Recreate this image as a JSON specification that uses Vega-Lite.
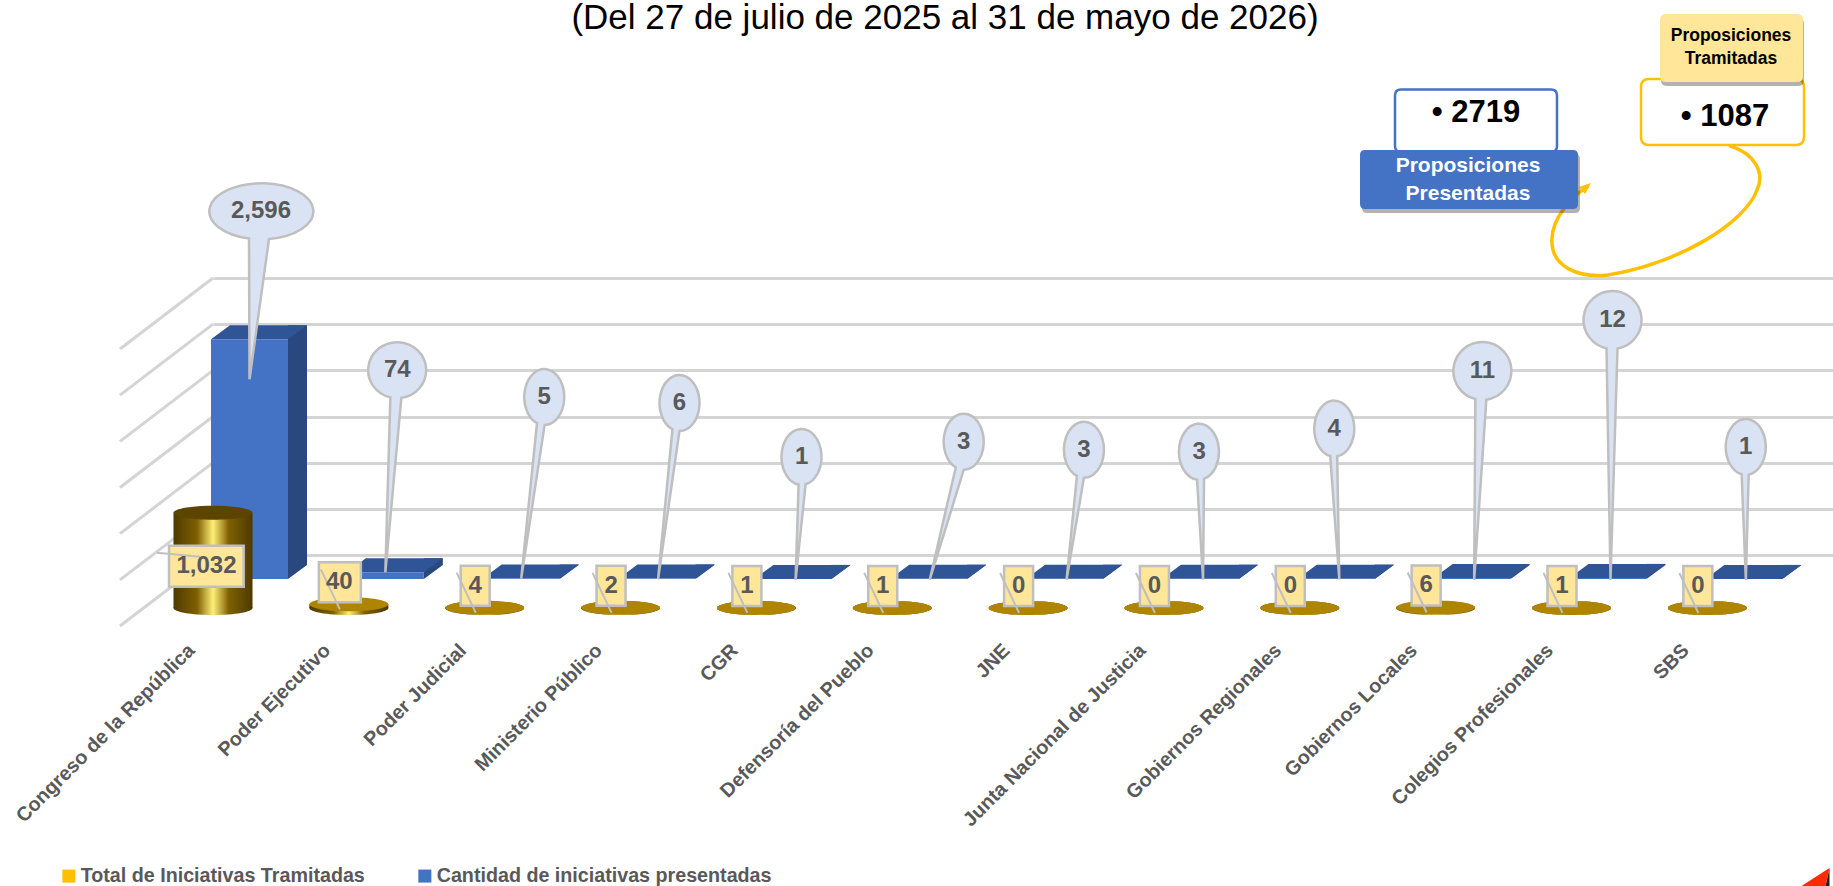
{
"$schema":"https://vega.github.io/schema/vega-lite/v6.json",
"width":1620,"height":277,
"autosize":{"type":"none"},
"padding":{"left":213,"top":278,"right":0,"bottom":331},
"background":"white",
"title":{"text":"(Del 27 de julio de 2025 al 31 de mayo de 2026)","anchor":"middle","dx":-78,"offset":-50,"baseline":"alphabetic","font":"Liberation Sans","fontWeight":"normal","fontSize":35,"color":"#000000"},
"config":{"view":{"stroke":null},
"point":{"size":4,"opacity":1,"filled":true,"strokeWidth":0},
"text":{"font":"Liberation Sans","fontWeight":"bold","fontSize":24,"fill":"#595959","align":"center","baseline":"middle"}},
"datasets":{
"presentadas":[
{"entidad":"Congreso de la República","serie":"Cantidad de iniciativas presentadas","valor":2596},
{"entidad":"Poder Ejecutivo","serie":"Cantidad de iniciativas presentadas","valor":74},
{"entidad":"Poder Judicial","serie":"Cantidad de iniciativas presentadas","valor":5},
{"entidad":"Ministerio Público","serie":"Cantidad de iniciativas presentadas","valor":6},
{"entidad":"CGR","serie":"Cantidad de iniciativas presentadas","valor":1},
{"entidad":"Defensoría del Pueblo","serie":"Cantidad de iniciativas presentadas","valor":3},
{"entidad":"JNE","serie":"Cantidad de iniciativas presentadas","valor":3},
{"entidad":"Junta Nacional de Justicia","serie":"Cantidad de iniciativas presentadas","valor":3},
{"entidad":"Gobiernos Regionales","serie":"Cantidad de iniciativas presentadas","valor":4},
{"entidad":"Gobiernos Locales","serie":"Cantidad de iniciativas presentadas","valor":11},
{"entidad":"Colegios Profesionales","serie":"Cantidad de iniciativas presentadas","valor":12},
{"entidad":"SBS","serie":"Cantidad de iniciativas presentadas","valor":1}],
"tramitadas":[
{"entidad":"Congreso de la República","serie":"Total de Iniciativas Tramitadas","valor":1032},
{"entidad":"Poder Ejecutivo","serie":"Total de Iniciativas Tramitadas","valor":40},
{"entidad":"Poder Judicial","serie":"Total de Iniciativas Tramitadas","valor":4},
{"entidad":"Ministerio Público","serie":"Total de Iniciativas Tramitadas","valor":2},
{"entidad":"CGR","serie":"Total de Iniciativas Tramitadas","valor":1},
{"entidad":"Defensoría del Pueblo","serie":"Total de Iniciativas Tramitadas","valor":1},
{"entidad":"JNE","serie":"Total de Iniciativas Tramitadas","valor":0},
{"entidad":"Junta Nacional de Justicia","serie":"Total de Iniciativas Tramitadas","valor":0},
{"entidad":"Gobiernos Regionales","serie":"Total de Iniciativas Tramitadas","valor":0},
{"entidad":"Gobiernos Locales","serie":"Total de Iniciativas Tramitadas","valor":6},
{"entidad":"Colegios Profesionales","serie":"Total de Iniciativas Tramitadas","valor":1},
{"entidad":"SBS","serie":"Total de Iniciativas Tramitadas","valor":0}],
"resumen":[{"entidad":"Colegios Profesionales","valor":3000,"presentadas":"•  2719","tramitadas":"•  1087"}]
},
"encoding":{
"x":{"field":"entidad","type":"nominal","sort":null,"title":null,
"scale":{"type":"point","padding":0,"range":[0,1630.2],"domain":["Congreso de la República","Poder Ejecutivo","Poder Judicial","Ministerio Público","CGR","Defensoría del Pueblo","JNE","Junta Nacional de Justicia","Gobiernos Regionales","Gobiernos Locales","Colegios Profesionales","SBS"," "]},
"axis":{"orient":"bottom","domain":false,"ticks":false,"grid":false,"labelAngle":-45,"labelAlign":"right","labelBaseline":"middle","labelOffset":-22,"labelPadding":92,"labelFont":"Liberation Sans","labelFontWeight":"bold","labelFontSize":19.8,"labelColor":"#595959","labelLimit":400,"labelOverlap":false}},
"y":{"field":"valor","type":"quantitative","title":null,
"scale":{"domain":[0,3000],"nice":false},
"axis":{"values":[0,500,1000,1500,2000,2500,3000],"domain":false,"ticks":false,"labels":false,"grid":true,"gridColor":"#d4d4d4","gridWidth":3}}
},
"layer":[
{"data":{"values":[{"valor":0},{"valor":500},{"valor":1000},{"valor":1500},{"valor":2000},{"valor":2500},{"valor":3000}]},
 "mark":{"type":"point","shape":"M0 0L-93 71","fill":"transparent","stroke":"#d4d4d4","strokeWidth":3},
 "encoding":{"x":{"datum":"Congreso de la República","type":"nominal"}}},
{"data":{"name":"presentadas"},"layer":[
 {"mark":{"type":"bar","color":"#2a4880","width":19,"xOffset":84.5,"yOffset":10}},
 {"mark":{"type":"point","shape":"M75 10L94 10L75 24Z","fill":"#2a4880"},"encoding":{"y":{"datum":0}}},
 {"mark":{"type":"point","shape":"M-2 24L75 24L94 10L17 10Z","fill":"#2f5597"}},
 {"mark":{"type":"bar","width":77,"xOffset":36.5,"yOffset":24},
  "encoding":{"color":{"field":"serie","type":"nominal","sort":null,
   "scale":{"domain":["Total de Iniciativas Tramitadas","Cantidad de iniciativas presentadas"],"range":["#ffc000","#4472c4"]},
   "legend":{"orient":"none","legendX":-154,"legendY":588,"direction":"horizontal","columns":2,"title":null,"symbolType":"square","symbolSize":170,"symbolStrokeWidth":0,"labelFont":"Liberation Sans","labelFontWeight":"bold","labelFontSize":19.7,"labelColor":"#595959","labelLimit":500,"columnPadding":50,"labelOffset":2}}}}
]},
{"data":{"name":"tramitadas"},"layer":[
 {"mark":{"type":"point","shape":"M-39.5 0A39.5 7 0 1 1 39.5 0A39.5 7 0 1 1 -39.5 0Z","yOffset":53,
   "fill":{"x1":0,"y1":0,"x2":1,"y2":0,"gradient":"linear","stops":[{"offset":0,"color":"#4d3a00"},{"offset":0.3,"color":"#7f6000"},{"offset":0.5,"color":"#fff07a"},{"offset":0.7,"color":"#7f6000"},{"offset":1,"color":"#4d3a00"}]}},
  "encoding":{"y":{"datum":0}}},
 {"mark":{"type":"bar","width":79,"yOffset":53,
   "fill":{"x1":0,"y1":0,"x2":1,"y2":0,"gradient":"linear","stops":[{"offset":0,"color":"#4d3a00"},{"offset":0.3,"color":"#7f6000"},{"offset":0.5,"color":"#fff07a"},{"offset":0.7,"color":"#7f6000"},{"offset":1,"color":"#4d3a00"}]}}},
 {"mark":{"type":"point","shape":"M-39.5 0A39.5 7 0 1 1 39.5 0A39.5 7 0 1 1 -39.5 0Z","yOffset":53},
  "encoding":{"color":{"condition":{"test":"datum.valor>100","value":"#5c4500"},"value":"#af8500"}}},
 {"transform":[{"filter":"datum.valor<100"}],"layer":[
  {"transform":[{"filter":"datum.valor<10"}],"mark":{"type":"point","shape":"M-24 11H5V51H-24Z","fill":"#ffe699","stroke":"#bfbfbf","strokeWidth":2.5}},
  {"transform":[{"filter":"datum.valor>=10"}],"mark":{"type":"point","shape":"M-30 11H12V51H-30Z","fill":"#ffe699","stroke":"#bfbfbf","strokeWidth":2.5}},
  {"mark":{"type":"point","shape":"M-28 18L-9 58","fill":"transparent","stroke":"#bfbfbf","strokeWidth":2}},
  {"mark":{"type":"text","xOffset":-9.5,"yOffset":31},"encoding":{"text":{"field":"valor","type":"quantitative","format":","}}}
 ]},
 {"transform":[{"filter":"datum.valor>=100"}],"layer":[
  {"mark":{"type":"point","shape":"M-44 86H30.7V127H-44Z","fill":"#ffe699","stroke":"#bfbfbf","strokeWidth":2.5}},
  {"mark":{"type":"point","shape":"M-56 93L-13 97","fill":"transparent","stroke":"#bfbfbf","strokeWidth":2}},
  {"mark":{"type":"text","xOffset":-6.5,"yOffset":106},"encoding":{"text":{"field":"valor","type":"quantitative","format":","}}}
 ]}
]},
{"data":{"name":"presentadas"},
 "layer":[
 {"transform":[{"filter":"datum.entidad=='Congreso de la República'"}],"layer":[
  {"mark":{"type":"point","xOffset":36.5,"yOffset":24,"fill":"#dae3f3","stroke":"#bfbfbf","strokeWidth":2.5,"shape":"M0 40L-0.5 -100.8A52 28 0 1 1 19.5 -100.3Z"}},
  {"mark":{"type":"text","xOffset":48,"yOffset":-104},"encoding":{"text":{"field":"valor","type":"quantitative","format":","}}}]},
 {"transform":[{"filter":"datum.entidad=='Poder Ejecutivo'"}],"layer":[
  {"mark":{"type":"point","xOffset":36.5,"yOffset":24,"fill":"#dae3f3","stroke":"#bfbfbf","strokeWidth":2.5,"shape":"M0 0L5 -174.8A29 28 0 1 1 16 -174.3Z"}},
  {"mark":{"type":"text","xOffset":48.5,"yOffset":-178},"encoding":{"text":{"field":"valor","type":"quantitative","format":","}}}]},
 {"transform":[{"filter":"datum.entidad=='Poder Judicial'"}],"layer":[
  {"mark":{"type":"point","xOffset":36.5,"yOffset":24,"fill":"#dae3f3","stroke":"#bfbfbf","strokeWidth":2.5,"shape":"M0 0L15.8 -155.4A20 28 0 1 1 23.4 -153.5Z"}},
  {"mark":{"type":"text","xOffset":59.5,"yOffset":-157.5},"encoding":{"text":{"field":"valor","type":"quantitative","format":","}}}]},
 {"transform":[{"filter":"datum.entidad=='Ministerio Público'"}],"layer":[
  {"mark":{"type":"point","xOffset":36.5,"yOffset":24,"fill":"#dae3f3","stroke":"#bfbfbf","strokeWidth":2.5,"shape":"M1 1L15.4 -149.2A20 28 0 1 1 22.4 -147.4Z"}},
  {"mark":{"type":"text","xOffset":58.9,"yOffset":-151.4},"encoding":{"text":{"field":"valor","type":"quantitative","format":","}}}]},
 {"transform":[{"filter":"datum.entidad=='CGR'"}],"layer":[
  {"mark":{"type":"point","xOffset":36.5,"yOffset":24,"fill":"#dae3f3","stroke":"#bfbfbf","strokeWidth":2.5,"shape":"M2.7 1L5.7 -94.3A20 28 0 1 1 12.7 -94.6Z"}},
  {"mark":{"type":"text","xOffset":45.2,"yOffset":-98},"encoding":{"text":{"field":"valor","type":"quantitative","format":","}}}]},
 {"transform":[{"filter":"datum.entidad=='Defensoría del Pueblo'"}],"layer":[
  {"mark":{"type":"point","xOffset":36.5,"yOffset":24,"fill":"#dae3f3","stroke":"#bfbfbf","strokeWidth":2.5,"shape":"M1 1L27 -111.3A20 28 0 1 1 35 -109Z"}},
  {"mark":{"type":"text","xOffset":71.5,"yOffset":-113},"encoding":{"text":{"field":"valor","type":"quantitative","format":","}}}]},
 {"transform":[{"filter":"datum.entidad=='JNE'"}],"layer":[
  {"mark":{"type":"point","xOffset":36.5,"yOffset":24,"fill":"#dae3f3","stroke":"#bfbfbf","strokeWidth":2.5,"shape":"M2 1L12.3 -102.8A20 28 0 1 1 19.3 -101Z"}},
  {"mark":{"type":"text","xOffset":55.8,"yOffset":-105},"encoding":{"text":{"field":"valor","type":"quantitative","format":","}}}]},
 {"transform":[{"filter":"datum.entidad=='Junta Nacional de Justicia'"}],"layer":[
  {"mark":{"type":"point","xOffset":36.5,"yOffset":24,"fill":"#dae3f3","stroke":"#bfbfbf","strokeWidth":2.5,"shape":"M2.6 1L-3.4 -99.1A20 28 0 1 1 3.6 -99.9Z"}},
  {"mark":{"type":"text","xOffset":35.1,"yOffset":-103},"encoding":{"text":{"field":"valor","type":"quantitative","format":","}}}]},
 {"transform":[{"filter":"datum.entidad=='Gobiernos Regionales'"}],"layer":[
  {"mark":{"type":"point","xOffset":36.5,"yOffset":24,"fill":"#dae3f3","stroke":"#bfbfbf","strokeWidth":2.5,"shape":"M3 1L-6.1 -122.6A20 28 0 1 1 0.9 -122.3Z"}},
  {"mark":{"type":"text","xOffset":34.4,"yOffset":-126},"encoding":{"text":{"field":"valor","type":"quantitative","format":","}}}]},
 {"transform":[{"filter":"datum.entidad=='Gobiernos Locales'"}],"layer":[
  {"mark":{"type":"point","xOffset":36.5,"yOffset":24,"fill":"#dae3f3","stroke":"#bfbfbf","strokeWidth":2.5,"shape":"M2 2L3.2 -178.9A29 29 0 1 1 14.2 -178.3Z"}},
  {"mark":{"type":"text","xOffset":46.7,"yOffset":-183},"encoding":{"text":{"field":"valor","type":"quantitative","format":","}}}]},
 {"transform":[{"filter":"datum.entidad=='Colegios Profesionales'"}],"layer":[
  {"mark":{"type":"point","xOffset":36.5,"yOffset":24,"fill":"#dae3f3","stroke":"#bfbfbf","strokeWidth":2.5,"shape":"M2.5 2L-1.5 -229.6A29 29 0 1 1 9.5 -229.4Z"}},
  {"mark":{"type":"text","xOffset":41,"yOffset":-234},"encoding":{"text":{"field":"valor","type":"quantitative","format":","}}}]},
 {"transform":[{"filter":"datum.entidad=='SBS'"}],"layer":[
  {"mark":{"type":"point","xOffset":36.5,"yOffset":24,"fill":"#dae3f3","stroke":"#bfbfbf","strokeWidth":2.5,"shape":"M2 1L-2.2 -104.6A20 28 0 1 1 4.8 -104.3Z"}},
  {"mark":{"type":"text","xOffset":38.3,"yOffset":-108},"encoding":{"text":{"field":"valor","type":"quantitative","format":","}}}]}
]},
{"data":{"name":"resumen"},"layer":[
 {"mark":{"type":"point","xOffset":-1.5,"fill":"white","stroke":"#4472c4","strokeWidth":2.5,"shape":"M-169 -188.5H-19Q-13 -188.5 -13 -182.5V-132Q-13 -126 -19 -126H-169Q-175 -126 -175 -132V-182.5Q-175 -188.5 -169 -188.5Z"}},
 {"mark":{"type":"point","xOffset":-1.5,"fill":"transparent","stroke":"#ffc000","strokeWidth":3.5,"shape":"M159 -132.4C185 -125 195 -105 187 -88C175 -55 110 -15 38 -3C10 0 -20 -10 -18 -40C-17 -60 0 -80 18 -92"}},
 {"mark":{"type":"point","xOffset":-1.5,"fill":"#ffc000","shape":"M21 -95L9 -91L15 -84Z"}},
 {"mark":{"type":"point","fill":"#000000","opacity":0.3,"xOffset":0.5,"yOffset":4,"shape":"M-205 -128H3Q8 -128 8 -123V-74Q8 -69 3 -69H-205Q-210 -69 -210 -74V-123Q-210 -128 -205 -128Z"}},
 {"mark":{"type":"point","xOffset":-1.5,"fill":"#4472c4","shape":"M-205 -128H3Q8 -128 8 -123V-74Q8 -69 3 -69H-205Q-210 -69 -210 -74V-123Q-210 -128 -205 -128Z"}},
 {"mark":{"type":"text","text":["Proposiciones","Presentadas"],"fill":"white","fontSize":21,"lineHeight":28,"xOffset":-103.5,"yOffset":-112}},
 {"mark":{"type":"text","fill":"black","fontSize":31,"xOffset":-95.5,"yOffset":-165},"encoding":{"text":{"field":"presentadas","type":"nominal"}}},
 {"mark":{"type":"point","xOffset":-1.5,"fill":"white","stroke":"#ffc000","strokeWidth":2.5,"shape":"M79 -199H226Q234 -199 234 -191V-141Q234 -133 226 -133H79Q71 -133 71 -141V-191Q71 -199 79 -199Z"}},
 {"mark":{"type":"point","fill":"#000000","opacity":0.3,"xOffset":-0.5,"yOffset":4,"shape":"M96 -264H227Q233 -264 233 -258V-202Q233 -196 227 -196H96Q90 -196 90 -202V-258Q90 -264 96 -264Z"}},
 {"mark":{"type":"point","xOffset":-1.5,"fill":"#ffe699","shape":"M96 -264H227Q233 -264 233 -258V-202Q233 -196 227 -196H96Q90 -196 90 -202V-258Q90 -264 96 -264Z"}},
 {"mark":{"type":"text","text":["Proposiciones","Tramitadas"],"fill":"black","fontSize":17.5,"lineHeight":22.5,"xOffset":159.5,"yOffset":-242}},
 {"mark":{"type":"text","fill":"black","fontSize":31,"xOffset":153.5,"yOffset":-161},"encoding":{"text":{"field":"tramitadas","type":"nominal"}}},
 {"mark":{"type":"point","fill":"#1f1f1f","shape":"M258 590L254 608L258 608Z"}},
 {"mark":{"type":"point","fill":"#ff2a00","shape":"M258 590L230 608L254 608Z"}}
]}
]
}
